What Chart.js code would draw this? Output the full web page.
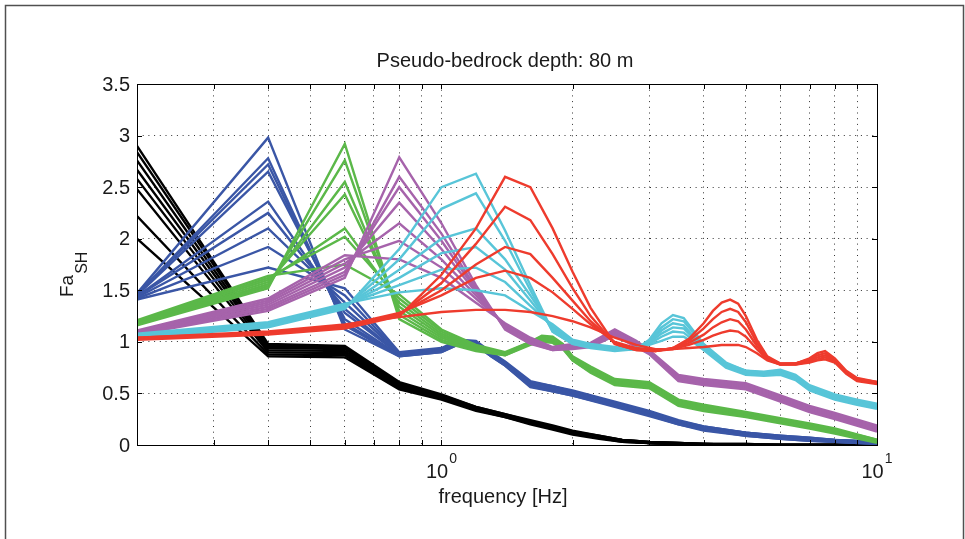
<!DOCTYPE html>
<html lang="en">
<head>
    <meta charset="UTF-8">
    <title>Pseudo-bedrock depth: 80 m</title>
    <script src="https://cdn.jsdelivr.net/npm/chart.js"></script>
    <style>
        body { margin: 0; background: #ffffff; }
        canvas { display: block; }
    </style>
</head>
<body>
    <canvas id="faChart" width="965" height="539"></canvas>

    <script>
        // grid positions of the log frequency axis
        const xGrid = [0.2, 0.3, 0.4, 0.5, 0.6, 0.7, 0.8, 0.9, 1, 2, 3, 4, 5, 6, 7, 8, 9, 10];
        const xLabels = [1, 10];
        const xExponents = ['0', '1'];
        const yTicks = [0, 0.5, 1, 1.5, 2, 2.5, 3, 3.5];

        // black group
        const blackFreq = [0.2, 0.4, 0.6, 0.8, 1.0, 1.2, 1.4, 1.6, 1.8, 2.0, 2.3, 2.6, 3.0, 3.5, 4.0, 5.0, 6.0, 8.0, 10];
        const blackLines = [
            [2.90, 0.98, 0.96, 0.61, 0.49, 0.37, 0.30, 0.24, 0.19, 0.14, 0.09, 0.05, 0.03, 0.02, 0.01, 0.01, 0.00, 0.00, 0.00],
            [2.84, 0.97, 0.95, 0.60, 0.48, 0.37, 0.30, 0.23, 0.18, 0.13, 0.09, 0.05, 0.03, 0.02, 0.01, 0.01, 0.00, 0.00, 0.00],
            [2.76, 0.95, 0.94, 0.59, 0.47, 0.36, 0.29, 0.23, 0.18, 0.13, 0.08, 0.05, 0.03, 0.02, 0.01, 0.00, 0.00, 0.00, 0.00],
            [2.67, 0.94, 0.93, 0.58, 0.47, 0.36, 0.29, 0.22, 0.17, 0.12, 0.08, 0.04, 0.02, 0.01, 0.01, 0.00, 0.00, 0.00, 0.00],
            [2.58, 0.92, 0.91, 0.57, 0.46, 0.35, 0.28, 0.22, 0.17, 0.12, 0.07, 0.04, 0.02, 0.01, 0.01, 0.00, 0.00, 0.00, 0.00],
            [2.48, 0.90, 0.89, 0.56, 0.45, 0.34, 0.28, 0.21, 0.16, 0.11, 0.07, 0.04, 0.02, 0.01, 0.00, 0.00, 0.00, 0.00, 0.00],
            [2.22, 0.88, 0.87, 0.55, 0.45, 0.34, 0.27, 0.21, 0.16, 0.11, 0.07, 0.03, 0.02, 0.01, 0.00, 0.00, 0.00, 0.00, 0.00],
            [2.00, 0.86, 0.85, 0.54, 0.44, 0.33, 0.27, 0.20, 0.15, 0.10, 0.06, 0.03, 0.02, 0.01, 0.00, 0.00, 0.00, 0.00, 0.00]
        ];

        // blue group (peak at 0.4 Hz)
        const blueFreq = [0.2, 0.4, 0.6, 0.8, 1.0, 1.1, 1.2, 1.3, 1.4, 1.6, 1.8, 2.0, 2.5, 3.0, 3.5, 4.0, 5.0, 6.0, 7.0, 8.0, 10];
        const blueLines = [
            [1.47, 2.98, 1.12, 0.86, 0.90, 0.98, 0.97, 0.86, 0.77, 0.56, 0.52, 0.48, 0.37, 0.28, 0.20, 0.14, 0.09, 0.06, 0.04, 0.03, 0.01],
            [1.46, 2.78, 1.16, 0.86, 0.90, 0.98, 0.97, 0.86, 0.77, 0.57, 0.52, 0.48, 0.38, 0.29, 0.20, 0.15, 0.09, 0.06, 0.04, 0.03, 0.01],
            [1.46, 2.72, 1.18, 0.87, 0.91, 0.99, 0.98, 0.87, 0.78, 0.57, 0.53, 0.49, 0.38, 0.29, 0.21, 0.15, 0.10, 0.07, 0.05, 0.03, 0.02],
            [1.45, 2.65, 1.22, 0.87, 0.91, 0.99, 0.98, 0.87, 0.78, 0.58, 0.54, 0.50, 0.39, 0.30, 0.21, 0.16, 0.10, 0.07, 0.05, 0.04, 0.02],
            [1.44, 2.36, 1.28, 0.88, 0.92, 1.00, 0.99, 0.88, 0.79, 0.59, 0.55, 0.51, 0.40, 0.31, 0.22, 0.16, 0.11, 0.08, 0.06, 0.04, 0.02],
            [1.44, 2.25, 1.32, 0.88, 0.92, 1.00, 0.99, 0.88, 0.79, 0.60, 0.55, 0.51, 0.40, 0.31, 0.22, 0.17, 0.11, 0.08, 0.06, 0.04, 0.02],
            [1.43, 2.10, 1.38, 0.89, 0.93, 1.01, 1.00, 0.89, 0.80, 0.60, 0.56, 0.52, 0.41, 0.32, 0.23, 0.17, 0.12, 0.08, 0.06, 0.05, 0.03],
            [1.42, 1.92, 1.45, 0.89, 0.93, 1.01, 1.00, 0.89, 0.80, 0.61, 0.57, 0.52, 0.41, 0.32, 0.23, 0.18, 0.12, 0.09, 0.07, 0.05, 0.03],
            [1.41, 1.72, 1.52, 0.90, 0.94, 1.02, 1.01, 0.90, 0.81, 0.62, 0.57, 0.53, 0.42, 0.33, 0.24, 0.18, 0.12, 0.09, 0.07, 0.05, 0.03]
        ];

        // green group (peak at 0.6 Hz)
        const greenFreq = [0.2, 0.4, 0.6, 0.8, 1.0, 1.2, 1.4, 1.6, 1.7, 1.8, 1.9, 2.0, 2.2, 2.5, 3.0, 3.5, 4.0, 5.0, 6.0, 7.0, 8.0, 10];
        const greenLines = [
            [1.16, 1.52, 2.92, 1.22, 1.00, 0.91, 0.87, 0.97, 1.00, 0.99, 0.93, 0.82, 0.70, 0.58, 0.55, 0.38, 0.33, 0.27, 0.21, 0.16, 0.11, 0.02],
            [1.17, 1.54, 2.76, 1.26, 1.02, 0.92, 0.87, 0.98, 1.01, 1.00, 0.94, 0.82, 0.71, 0.59, 0.56, 0.39, 0.34, 0.28, 0.22, 0.17, 0.12, 0.03],
            [1.17, 1.56, 2.55, 1.30, 1.04, 0.93, 0.88, 0.98, 1.02, 1.01, 0.95, 0.83, 0.72, 0.60, 0.57, 0.40, 0.35, 0.28, 0.22, 0.18, 0.13, 0.03],
            [1.18, 1.58, 2.43, 1.34, 1.06, 0.94, 0.88, 0.99, 1.03, 1.02, 0.95, 0.84, 0.73, 0.61, 0.58, 0.41, 0.36, 0.29, 0.23, 0.18, 0.13, 0.04],
            [1.19, 1.60, 2.10, 1.38, 1.08, 0.95, 0.89, 0.99, 1.04, 1.03, 0.96, 0.85, 0.74, 0.62, 0.59, 0.42, 0.37, 0.30, 0.24, 0.19, 0.14, 0.04],
            [1.20, 1.62, 2.02, 1.42, 1.10, 0.96, 0.89, 1.00, 1.05, 1.04, 0.97, 0.85, 0.75, 0.63, 0.60, 0.43, 0.38, 0.31, 0.25, 0.20, 0.15, 0.05],
            [1.21, 1.64, 1.75, 1.46, 1.12, 0.97, 0.90, 1.00, 1.06, 1.05, 0.98, 0.86, 0.76, 0.64, 0.61, 0.44, 0.39, 0.32, 0.26, 0.21, 0.16, 0.05]
        ];

        // purple group (peak at 0.8 Hz)
        const purpleFreq = [0.2, 0.4, 0.6, 0.8, 1.0, 1.2, 1.4, 1.6, 1.8, 2.0, 2.2, 2.5, 2.8, 3.0, 3.5, 4.0, 5.0, 6.0, 7.0, 8.0, 10];
        const purpleLines = [
            [1.07, 1.30, 1.62, 2.79, 2.15, 1.55, 1.12, 0.98, 0.92, 0.93, 0.95, 1.06, 0.95, 0.88, 0.62, 0.58, 0.54, 0.42, 0.32, 0.25, 0.13],
            [1.08, 1.32, 1.65, 2.60, 2.05, 1.52, 1.13, 0.99, 0.92, 0.94, 0.96, 1.07, 0.96, 0.89, 0.63, 0.59, 0.55, 0.43, 0.33, 0.26, 0.14],
            [1.08, 1.34, 1.68, 2.50, 1.98, 1.50, 1.14, 1.00, 0.93, 0.95, 0.96, 1.08, 0.97, 0.89, 0.64, 0.60, 0.56, 0.44, 0.34, 0.27, 0.15],
            [1.09, 1.36, 1.72, 2.35, 1.90, 1.48, 1.15, 1.01, 0.93, 0.95, 0.97, 1.09, 0.98, 0.90, 0.65, 0.61, 0.57, 0.45, 0.35, 0.28, 0.16],
            [1.10, 1.38, 1.76, 2.15, 1.80, 1.45, 1.16, 1.02, 0.94, 0.96, 0.98, 1.10, 0.99, 0.91, 0.66, 0.62, 0.58, 0.46, 0.36, 0.29, 0.17],
            [1.10, 1.40, 1.80, 1.98, 1.72, 1.42, 1.17, 1.03, 0.94, 0.97, 0.98, 1.11, 1.00, 0.91, 0.67, 0.63, 0.59, 0.47, 0.37, 0.30, 0.18],
            [1.11, 1.42, 1.84, 1.80, 1.62, 1.38, 1.18, 1.04, 0.95, 0.98, 0.99, 1.12, 1.01, 0.92, 0.68, 0.64, 0.60, 0.48, 0.38, 0.31, 0.19]
        ];

        // cyan group (peak at 1.2 Hz)
        const cyanFreq = [0.2, 0.4, 0.6, 0.8, 1.0, 1.2, 1.4, 1.6, 1.8, 2.0, 2.2, 2.5, 2.8, 3.0, 3.2, 3.4, 3.6, 3.8, 4.0, 4.5, 5.0, 5.5, 6.0, 6.5, 7.0, 8.0, 9.0, 10];
        const cyanLines = [
            [1.04, 1.14, 1.32, 1.90, 2.50, 2.63, 2.08, 1.55, 1.10, 0.98, 0.94, 0.91, 0.93, 1.02, 1.18, 1.26, 1.23, 1.10, 0.98, 0.80, 0.72, 0.71, 0.73, 0.68, 0.58, 0.49, 0.44, 0.40],
            [1.05, 1.15, 1.33, 1.80, 2.29, 2.44, 1.98, 1.50, 1.10, 0.98, 0.95, 0.92, 0.93, 1.01, 1.14, 1.22, 1.20, 1.08, 0.97, 0.79, 0.72, 0.70, 0.72, 0.67, 0.57, 0.48, 0.43, 0.39],
            [1.05, 1.16, 1.34, 1.70, 2.00, 2.10, 1.80, 1.45, 1.12, 0.99, 0.95, 0.92, 0.93, 1.00, 1.11, 1.18, 1.16, 1.05, 0.96, 0.78, 0.71, 0.70, 0.71, 0.66, 0.56, 0.47, 0.42, 0.38],
            [1.06, 1.17, 1.35, 1.62, 1.86, 1.92, 1.70, 1.40, 1.13, 1.00, 0.96, 0.93, 0.93, 0.99, 1.08, 1.14, 1.13, 1.03, 0.95, 0.77, 0.70, 0.69, 0.70, 0.65, 0.55, 0.46, 0.41, 0.37],
            [1.07, 1.18, 1.36, 1.55, 1.70, 1.72, 1.58, 1.35, 1.15, 1.01, 0.97, 0.94, 0.94, 0.98, 1.05, 1.10, 1.09, 1.01, 0.94, 0.76, 0.69, 0.68, 0.69, 0.64, 0.54, 0.45, 0.40, 0.36],
            [1.08, 1.19, 1.37, 1.48, 1.52, 1.50, 1.45, 1.30, 1.17, 1.02, 0.98, 0.95, 0.94, 0.97, 1.01, 1.05, 1.05, 0.99, 0.92, 0.75, 0.68, 0.67, 0.68, 0.63, 0.53, 0.44, 0.39, 0.35]
        ];

        // red group (peak at 1.4 Hz)
        const redFreq = [0.2, 0.4, 0.6, 0.8, 1.0, 1.2, 1.4, 1.6, 1.8, 2.0, 2.2, 2.5, 2.8, 3.1, 3.4, 3.7, 4.0, 4.2, 4.4, 4.6, 4.8, 5.0, 5.3, 5.6, 6.0, 6.5, 7.0, 7.3, 7.6, 8.0, 8.5, 9.0, 10];
        const redLines = [
            [1.02, 1.07, 1.13, 1.25, 1.65, 2.10, 2.60, 2.50, 2.10, 1.68, 1.33, 0.98, 0.92, 0.91, 0.94, 1.03, 1.18, 1.30, 1.38, 1.41, 1.37, 1.25, 1.02, 0.86, 0.79, 0.79, 0.84, 0.89, 0.91, 0.84, 0.72, 0.65, 0.61],
            [1.03, 1.08, 1.14, 1.26, 1.57, 1.95, 2.31, 2.18, 1.85, 1.52, 1.25, 0.98, 0.92, 0.91, 0.94, 1.01, 1.13, 1.22, 1.29, 1.32, 1.29, 1.19, 0.99, 0.85, 0.79, 0.79, 0.83, 0.87, 0.89, 0.83, 0.71, 0.64, 0.61],
            [1.03, 1.08, 1.15, 1.27, 1.50, 1.75, 1.92, 1.85, 1.62, 1.40, 1.20, 0.99, 0.93, 0.91, 0.93, 0.99, 1.07, 1.14, 1.19, 1.22, 1.20, 1.12, 0.96, 0.84, 0.78, 0.79, 0.82, 0.85, 0.87, 0.82, 0.70, 0.63, 0.60],
            [1.04, 1.09, 1.16, 1.28, 1.45, 1.62, 1.69, 1.62, 1.48, 1.32, 1.17, 1.00, 0.94, 0.92, 0.93, 0.97, 1.02, 1.06, 1.09, 1.11, 1.10, 1.05, 0.93, 0.83, 0.78, 0.78, 0.81, 0.83, 0.85, 0.81, 0.70, 0.63, 0.60],
            [1.04, 1.10, 1.17, 1.24, 1.29, 1.31, 1.31, 1.29, 1.25, 1.20, 1.14, 1.04, 0.97, 0.93, 0.93, 0.94, 0.95, 0.96, 0.97, 0.97, 0.97, 0.95, 0.89, 0.82, 0.78, 0.78, 0.80, 0.82, 0.83, 0.80, 0.69, 0.62, 0.59]
        ];

        const groups = [
            { freq: redFreq, lines: redLines, color: '#ee3b2d', order: 0 },
            { freq: cyanFreq, lines: cyanLines, color: '#58c5d8', order: 1 },
            { freq: purpleFreq, lines: purpleLines, color: '#a663ab', order: 2 },
            { freq: greenFreq, lines: greenLines, color: '#5bb849', order: 3 },
            { freq: blueFreq, lines: blueLines, color: '#3a56a6', order: 4 },
            { freq: blackFreq, lines: blackLines, color: '#000000', order: 5 }
        ];

        const datasets = [];
        groups.forEach(g => {
            g.lines.forEach(vals => {
                datasets.push({
                    data: g.freq.map((f, i) => ({ x: f, y: vals[i] })),
                    borderColor: g.color,
                    borderWidth: 2.4,
                    pointRadius: 0,
                    tension: 0,
                    fill: false,
                    order: g.order
                });
            });
        });

        const FONT = '"Liberation Sans", Arial, sans-serif';

        // white page, figure frame, axes box, inward ticks and all the texts
        const matlabFrame = {
            id: 'matlabFrame',
            beforeDraw(chart) {
                const ctx = chart.ctx;
                ctx.save();
                ctx.fillStyle = '#ffffff';
                ctx.fillRect(0, 0, chart.width, chart.height);
                ctx.restore();
            },
            afterDraw(chart) {
                const { ctx, chartArea: a, scales: { x, y } } = chart;
                ctx.save();

                // figure border
                ctx.strokeStyle = '#505050';
                ctx.lineWidth = 1.5;
                ctx.strokeRect(5.5, 5.5, 958, 560);

                // axes box
                ctx.strokeStyle = '#000000';
                ctx.lineWidth = 1;
                ctx.strokeRect(a.left + 0.5, a.top + 0.5, a.right - a.left, a.bottom - a.top);

                // ticks pointing inside
                ctx.beginPath();
                xGrid.forEach(v => {
                    const px = Math.round(x.getPixelForValue(v)) + 0.5;
                    ctx.moveTo(px, a.bottom);
                    ctx.lineTo(px, a.bottom - 5);
                    ctx.moveTo(px, a.top);
                    ctx.lineTo(px, a.top + 5);
                });
                yTicks.forEach(v => {
                    const py = Math.round(y.getPixelForValue(v)) + 0.5;
                    ctx.moveTo(a.left, py);
                    ctx.lineTo(a.left + 5, py);
                    ctx.moveTo(a.right, py);
                    ctx.lineTo(a.right - 5, py);
                });
                ctx.stroke();

                ctx.fillStyle = '#1a1a1a';

                // y tick labels
                ctx.font = '20px ' + FONT;
                ctx.textAlign = 'right';
                ctx.textBaseline = 'middle';
                yTicks.forEach(v => {
                    ctx.fillText(String(v), a.left - 7, y.getPixelForValue(v) + 1);
                });

                // x tick labels 10^0, 10^1
                ctx.textBaseline = 'alphabetic';
                ctx.textAlign = 'left';
                xLabels.forEach((v, i) => {
                    ctx.font = '20px ' + FONT;
                    const wBase = ctx.measureText('10').width;
                    ctx.font = '14px ' + FONT;
                    const wExp = ctx.measureText(xExponents[i]).width;
                    const start = x.getPixelForValue(v) - (wBase + wExp + 1) / 2;
                    ctx.font = '20px ' + FONT;
                    ctx.fillText('10', start, a.bottom + 33);
                    ctx.font = '14px ' + FONT;
                    ctx.fillText(xExponents[i], start + wBase + 1, a.bottom + 18);
                });

                // title
                ctx.font = '20px ' + FONT;
                ctx.textAlign = 'center';
                ctx.fillText('Pseudo-bedrock depth: 80 m', (a.left + a.right) / 2 - 2, 67);

                // x axis title
                ctx.fillText('frequency [Hz]', (a.left + a.right) / 2 - 4, 503);

                // y axis title Fa_SH
                ctx.translate(73, 297);
                ctx.rotate(-Math.PI / 2);
                ctx.textAlign = 'left';
                ctx.font = '19px ' + FONT;
                ctx.fillText('Fa', 0, 0);
                const wFa = ctx.measureText('Fa').width;
                ctx.font = '16px ' + FONT;
                ctx.fillText('SH', wFa + 1, 14);

                ctx.restore();
            }
        };

        new Chart(document.getElementById('faChart').getContext('2d'), {
            type: 'line',
            data: { datasets: datasets },
            options: {
                responsive: false,
                animation: false,
                layout: {
                    padding: { left: 137, right: 88, top: 84, bottom: 94 }
                },
                plugins: {
                    legend: { display: false },
                    title: { display: false },
                    tooltip: { enabled: false }
                },
                scales: {
                    x: {
                        type: 'logarithmic',
                        min: 0.2,
                        max: 10,
                        bounds: 'data',
                        afterBuildTicks: scale => {
                            scale.ticks = xGrid.map(v => ({ value: v }));
                        },
                        ticks: { display: false },
                        grid: { color: '#333333', lineWidth: 1, drawTicks: false },
                        border: { display: false, dash: [1, 4.7] }
                    },
                    y: {
                        type: 'linear',
                        min: 0,
                        max: 3.5,
                        ticks: { display: false, stepSize: 0.5 },
                        grid: { color: '#333333', lineWidth: 1, drawTicks: false },
                        border: { display: false, dash: [1, 4.7] }
                    }
                }
            },
            plugins: [matlabFrame]
        });
    </script>
</body>
</html>
